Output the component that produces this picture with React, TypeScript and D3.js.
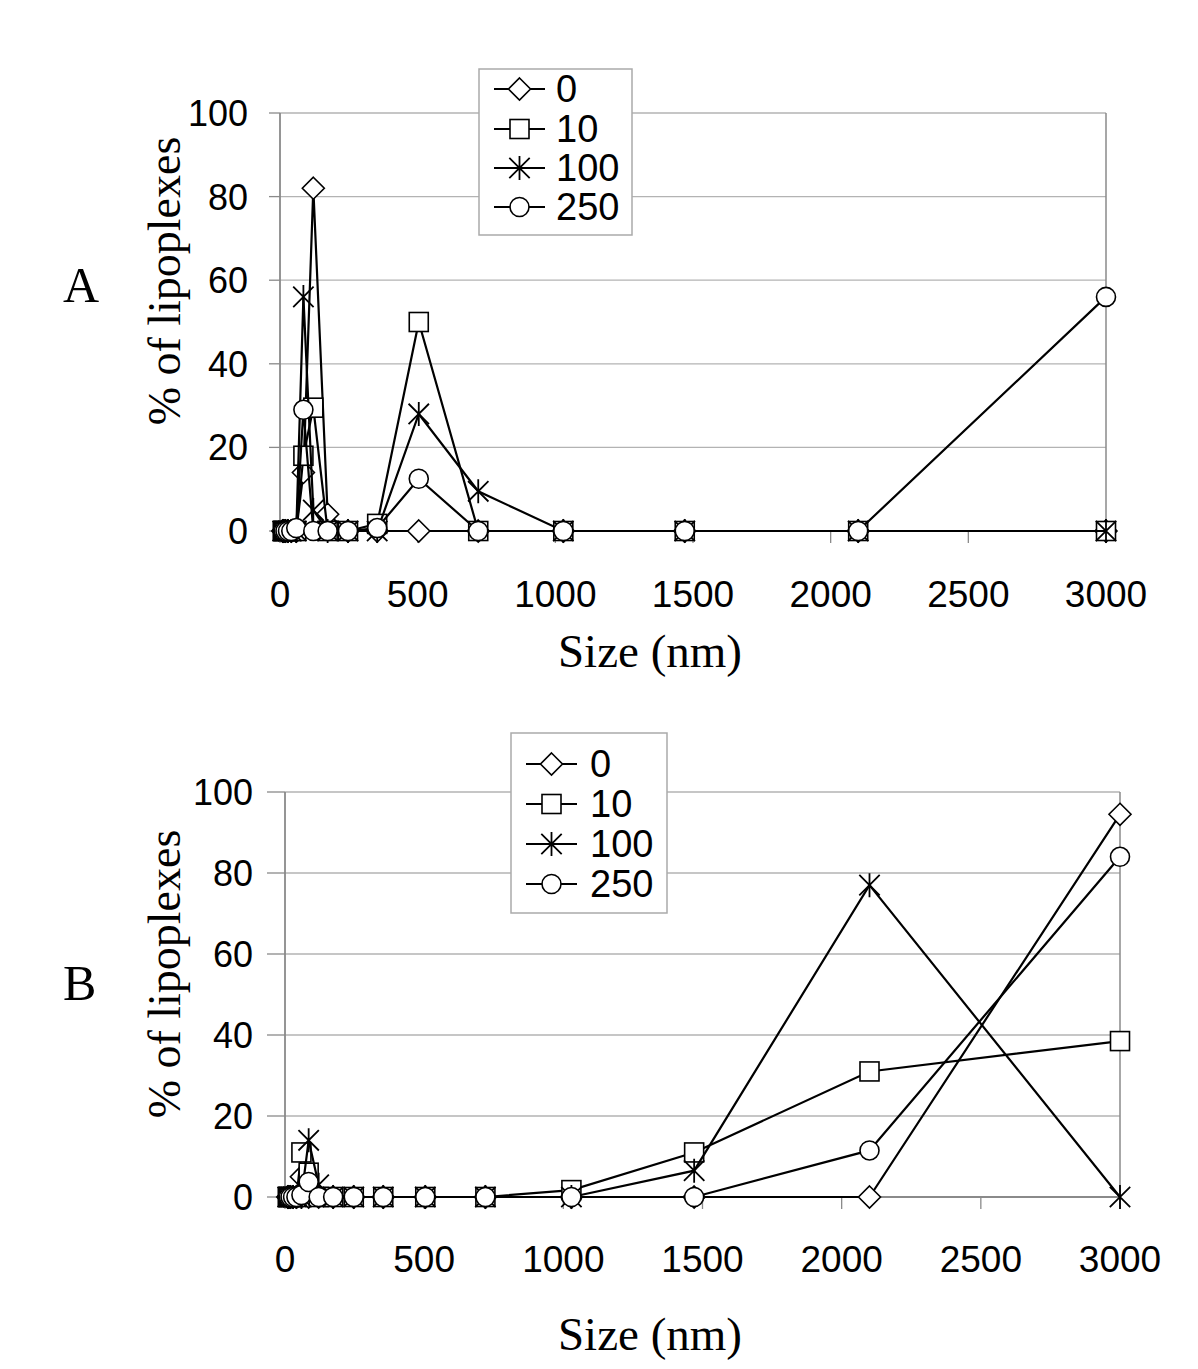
import React from "react";
import * as d3 from "d3";

const sizes = [10, 14, 20, 29, 41, 59, 85, 121, 173, 247, 353, 504, 720, 1029, 1470, 2100, 3000];
const seriesNames = ["0", "10", "100", "250"];
const markerKinds = ["diamond", "square", "star", "circle"];

const a0 = [0, 0, 0, 0, 0, 0, 14, 82, 4, 0, 0, 0, 0, 0, 0, 0, 0];
const a10 = [0, 0, 0, 0, 0, 0, 18, 29.5, 0, 0, 1.7, 50, 0, 0, 0, 0, 0];
const a100 = [0, 0, 0, 0, 0, 0, 56, 5, 0, 0, 0, 28, 9.5, 0, 0, 0, 0];
const a250 = [0, 0, 0, 0, 0, 0.7, 29, 0, 0, 0, 0.7, 12.5, 0, 0, 0, 0, 56];

const b0 = [0, 0, 0, 0, 0, 5, 0, 0, 0, 0, 0, 0, 0, 0, 0, 0, 94.5];
const b10 = [0, 0, 0, 0, 0, 11, 6, 0, 0, 0, 0, 0, 0, 1.7, 11, 31, 38.5];
const b100 = [0, 0, 0, 0, 0, 0, 14, 3, 0, 0, 0, 0, 0, 0, 6.5, 77, 0];
const b250 = [0, 0, 0, 0, 0, 0.5, 3.7, 0, 0, 0, 0, 0, 0, 0, 0, 11.5, 84];

const xTicks = [0, 500, 1000, 1500, 2000, 2500, 3000];
const yTicks = [0, 20, 40, 60, 80, 100];

const SANS = "'Liberation Sans', Arial, sans-serif";
const SERIF = "'Liberation Serif', 'Times New Roman', serif";

function Marker({ kind, x, y }: { kind: string; x: number; y: number }) {
  const s = 9.5;
  const st = { stroke: "#000", strokeWidth: 1.6, fill: "#fff" };
  if (kind === "diamond")
    return <path d={`M${x},${y - s - 1.5}L${x + s + 1.5},${y}L${x},${y + s + 1.5}L${x - s - 1.5},${y}Z`} {...st} />;
  if (kind === "square") return <rect x={x - s} y={y - s} width={2 * s} height={2 * s} {...st} />;
  if (kind === "circle") return <circle cx={x} cy={y} r={s} {...st} />;
  const r = 12;
  const a = r * 0.85;
  return (
    <path
      d={`M${x - a},${y - a}L${x + a},${y + a}M${x - a},${y + a}L${x + a},${y - a}M${x},${y - r}L${x},${y + r}`}
      stroke="#000"
      strokeWidth={1.8}
      fill="none"
    />
  );
}

type PanelProps = {
  series: number[][];
  left: number;
  right: number;
  top: number;
  bottom: number;
  tickLen: number;
  yLabelEnd: number;
  xLabelBase: number;
  titleBase: number;
  yTitleCenter: number;
  panelLabel: string;
  panelLabelY: number;
  legend: { x0: number; x1: number; y0: number; y1: number; rows: number[]; lineX0: number; lineX1: number; textX: number };
};

function Panel(p: PanelProps) {
  const x = d3.scaleLinear().domain([0, 3000]).range([p.left, p.right]);
  const y = d3.scaleLinear().domain([0, 100]).range([p.bottom, p.top]);
  const line = d3
    .line<[number, number]>()
    .x((d) => x(d[0]))
    .y((d) => y(d[1]));
  const grid = "#b3b3b3";
  const axis = "#8a8a8a";
  return (
    <g>
      {yTicks.map((t) => (
        <line key={"g" + t} x1={p.left} x2={p.right} y1={y(t)} y2={y(t)} stroke={grid} strokeWidth={1.3} />
      ))}
      <line x1={p.right} x2={p.right} y1={p.top} y2={p.bottom} stroke={axis} strokeWidth={1.5} />
      <line x1={p.left} x2={p.left} y1={p.top} y2={p.bottom} stroke={axis} strokeWidth={1.8} />
      <line x1={p.left} x2={p.right} y1={p.bottom} y2={p.bottom} stroke={axis} strokeWidth={1.8} />
      {yTicks.map((t) => (
        <g key={"yt" + t}>
          <line x1={p.left - p.tickLen} x2={p.left} y1={y(t)} y2={y(t)} stroke={axis} strokeWidth={1.3} />
          <text x={p.yLabelEnd} y={y(t) + 13} textAnchor="end" fontFamily={SANS} fontSize={36}>
            {t}
          </text>
        </g>
      ))}
      {xTicks.map((t) => (
        <g key={"xt" + t}>
          <line x1={x(t)} x2={x(t)} y1={p.bottom} y2={p.bottom + 12} stroke={axis} strokeWidth={1.3} />
          <text x={x(t)} y={p.xLabelBase} textAnchor="middle" fontFamily={SANS} fontSize={37}>
            {t}
          </text>
        </g>
      ))}
      {p.series.map((vals, si) => {
        const pts = vals.map((v, i) => [sizes[i], v] as [number, number]);
        return (
          <g key={"s" + si}>
            <path d={line(pts) || ""} fill="none" stroke="#000" strokeWidth={2.2} />
            {pts.map((d, i) => (
              <Marker key={i} kind={markerKinds[si]} x={x(d[0])} y={y(d[1])} />
            ))}
          </g>
        );
      })}
      <text x={650} y={p.titleBase} textAnchor="middle" fontFamily={SERIF} fontSize={47}>
        Size (nm)
      </text>
      <text
        transform={`translate(180,${p.yTitleCenter}) rotate(-90)`}
        textAnchor="middle"
        fontFamily={SERIF}
        fontSize={46}
      >
        % of lipoplexes
      </text>
      <text x={63} y={p.panelLabelY} fontFamily={SERIF} fontSize={50}>
        {p.panelLabel}
      </text>
      <rect
        x={p.legend.x0}
        y={p.legend.y0}
        width={p.legend.x1 - p.legend.x0}
        height={p.legend.y1 - p.legend.y0}
        fill="#fff"
        stroke="#aaa"
        strokeWidth={1.5}
      />
      {seriesNames.map((n, i) => {
        const ry = p.legend.rows[i];
        const mx = (p.legend.lineX0 + p.legend.lineX1) / 2;
        return (
          <g key={"l" + i}>
            <line x1={p.legend.lineX0} x2={p.legend.lineX1} y1={ry} y2={ry} stroke="#000" strokeWidth={2} />
            <Marker kind={markerKinds[i]} x={mx} y={ry} />
            <text x={p.legend.textX} y={ry + 13} fontFamily={SANS} fontSize={38}>
              {n}
            </text>
          </g>
        );
      })}
    </g>
  );
}

export default function App() {
  return (
    <svg
      width={1198}
      height={1369}
      style={{ position: "absolute", left: 0, top: 0, background: "#fff" }}
    >
      <rect x={0} y={0} width={1198} height={1369} fill="#fff" />
      <Panel
        series={[a0, a10, a100, a250]}
        left={280}
        right={1106}
        top={113}
        bottom={531}
        tickLen={11}
        yLabelEnd={248}
        xLabelBase={607}
        titleBase={667}
        yTitleCenter={281}
        panelLabel="A"
        panelLabelY={302}
        legend={{ x0: 479, x1: 632, y0: 69, y1: 235, rows: [89, 129, 168, 207], lineX0: 494, lineX1: 545, textX: 556 }}
      />
      <Panel
        series={[b0, b10, b100, b250]}
        left={285}
        right={1120}
        top={792}
        bottom={1197}
        tickLen={18}
        yLabelEnd={253}
        xLabelBase={1272}
        titleBase={1350}
        yTitleCenter={974}
        panelLabel="B"
        panelLabelY={1000}
        legend={{ x0: 511, x1: 667, y0: 733, y1: 913, rows: [764, 804, 844, 884], lineX0: 526, lineX1: 577, textX: 590 }}
      />
    </svg>
  );
}
